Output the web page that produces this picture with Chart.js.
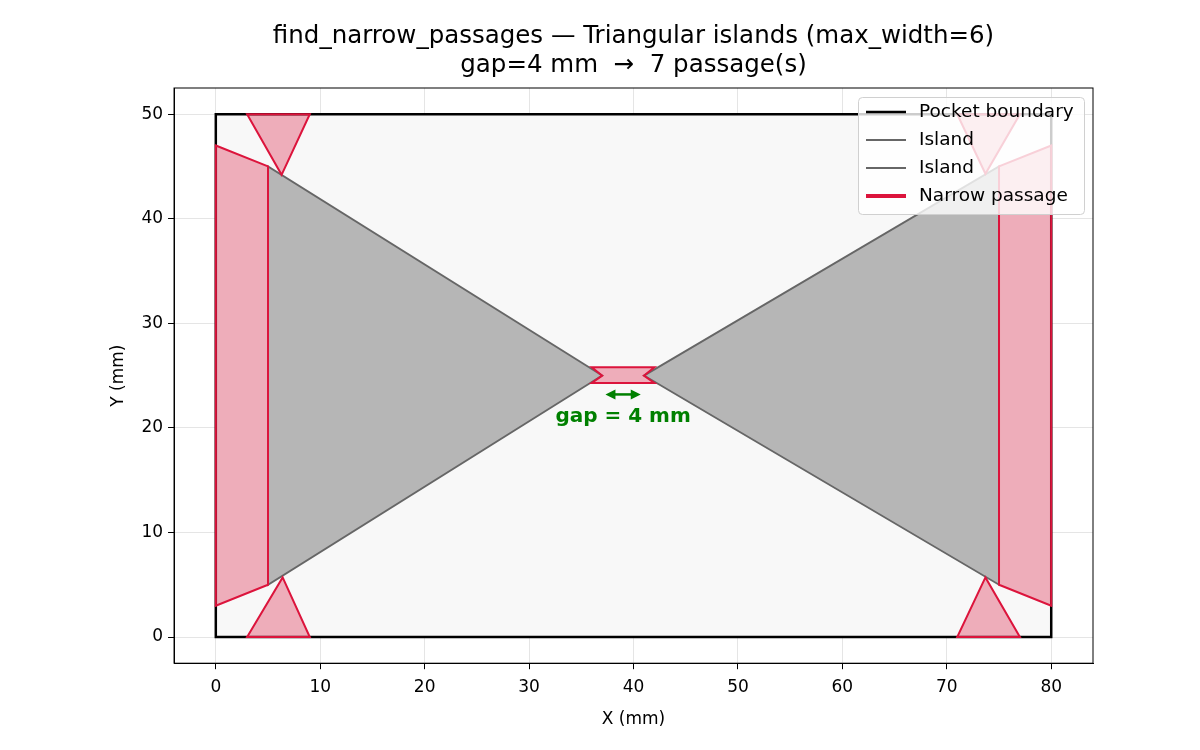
<!DOCTYPE html>
<html><head><meta charset="utf-8">
<script src="https://cdn.jsdelivr.net/npm/chart.js@4/dist/chart.umd.min.js"></script>
<style>html,body{margin:0;background:#fff}#w{width:1200px;height:750px}</style>
</head><body><div id="w"><canvas id="c" width="1200" height="750"></canvas></div>
<script>
const titleLines = ["find_narrow_passages — Triangular islands (max_width=6)", "gap=4 mm  →  7 passage(s)"];
const xTicks = [0,10,20,30,40,50,60,70,80];
const yTicks = [0,10,20,30,40,50];
const pocket = [[0,0],[80,0],[80,50],[0,50]];
const islandLeft = [[5,45],[5,5],[37,25]];
const islandRight = [[75,45],[75,5],[41,25]];
const passages = [
  [[0,47],[5,45],[5,5],[0,3]],
  [[3,50],[9,50],[6.3,44.2]],
  [[3,0],[9,0],[6.4,5.7]],
  [[75,45],[80,47],[80,3],[75,5]],
  [[71,50],[77,50],[73.7,44.3]],
  [[71,0],[77,0],[73.7,5.7]],
  [[36,25.8],[42,25.8],[41,25],[42,24.3],[36,24.3],[37,25]]
];
const gapArrow = [[37.5,23.2],[40.5,23.2]];
const gapLabel = {x:39, y:21.1, text:"gap = 4 mm"};
const legendItems = [
  {label:"Pocket boundary", color:"#000", w:2.5},
  {label:"Island", color:"#666", w:1.8},
  {label:"Island", color:"#666", w:1.8},
  {label:"Narrow passage", color:"#dc143c", w:4}
];
const shapes = [
  {poly:pocket, fill:"#f8f8f8", stroke:"#000", w:2.5},
  {poly:islandLeft, fill:"#b6b6b6", stroke:"#666", w:1.8},
  {poly:islandRight, fill:"#b6b6b6", stroke:"#666", w:1.8},
  ...passages.map(p=>({poly:p, fill:"rgba(220,20,60,0.33)", stroke:"#dc143c", w:2}))
];
const deco = {
  id:'deco',
  beforeDatasetsDraw(ch){
    const c=ch.ctx, xs=ch.scales.x, ys=ch.scales.y;
    c.save(); c.lineJoin="miter";
    shapes.forEach(s=>{
      c.beginPath();
      s.poly.forEach((p,i)=>{const X=xs.getPixelForValue(p[0]),Y=ys.getPixelForValue(p[1]); i?c.lineTo(X,Y):c.moveTo(X,Y);});
      c.closePath(); c.fillStyle=s.fill; c.fill(); c.strokeStyle=s.stroke; c.lineWidth=s.w; c.stroke();
    });
    c.restore();
  },
  afterDatasetsDraw(ch){
    const c=ch.ctx, xs=ch.scales.x, ys=ch.scales.y, a=ch.chartArea;
    c.save();
    c.strokeStyle="#000"; c.lineWidth=1; c.strokeRect(a.left,a.top,a.right-a.left,a.bottom-a.top);
    c.fillStyle="#000"; c.font="24.5px 'DejaVu Sans'"; c.textAlign="center"; c.textBaseline="middle";
    const cx=(a.left+a.right)/2;
    c.fillText(titleLines[0], cx, 37); c.fillText(titleLines[1], cx, 66);
    c.fillStyle="green"; c.strokeStyle="green"; c.lineWidth=2.5;
    const y=ys.getPixelForValue(gapArrow[0][1]);
    const x1=xs.getPixelForValue(gapArrow[0][0]), x2=xs.getPixelForValue(gapArrow[1][0]);
    c.beginPath(); c.moveTo(x1+4,y); c.lineTo(x2-4,y); c.stroke();
    c.beginPath(); c.moveTo(x1-2,y); c.lineTo(x1+8,y-5); c.lineTo(x1+8,y+5); c.fill();
    c.beginPath(); c.moveTo(x2+2,y); c.lineTo(x2-8,y-5); c.lineTo(x2-8,y+5); c.fill();
    c.font="bold 20px 'DejaVu Sans'";
    c.fillText(gapLabel.text, xs.getPixelForValue(gapLabel.x), ys.getPixelForValue(gapLabel.y));
    const lx=858, ly=97, lw=226, lh=117;
    c.fillStyle="rgba(255,255,255,0.8)"; c.strokeStyle="#d0d0d0"; c.lineWidth=1;
    c.beginPath(); c.roundRect(lx+0.5,ly+0.5,lw,lh,4); c.fill(); c.stroke();
    c.font="18.5px 'DejaVu Sans'"; c.textAlign="left";
    legendItems.forEach((it,i)=>{
      const yy=ly+15+i*28;
      c.strokeStyle=it.color; c.lineWidth=it.w; c.beginPath(); c.moveTo(lx+8,yy); c.lineTo(lx+48,yy); c.stroke();
      c.fillStyle="#000"; c.fillText(it.label, lx+61, yy);
    });
    c.restore();
  }
};
new Chart(document.getElementById('c'), {
  type:'scatter',
  data:{datasets:[{data:[], pointRadius:0}]},
  options:{
    responsive:false, animation:false, devicePixelRatio:1,
    layout:{padding:{left:104,right:107,top:88,bottom:16}},
    plugins:{legend:{display:false}, tooltip:{enabled:false}, title:{display:false}},
    scales:{
      x:{type:'linear', min:-4, max:84, afterBuildTicks:a=>{a.ticks=xTicks.map(v=>({value:v}))},
        grid:{color:"rgba(0,0,0,0.1)", tickLength:6, tickColor:"#000"}, border:{color:"#000", width:1},
        ticks:{color:"#000", font:{family:"DejaVu Sans", size:17}, maxRotation:0, padding:8},
        title:{display:true, text:"X (mm)", color:"#000", font:{family:"DejaVu Sans", size:17}, padding:{top:4}}},
      y:{type:'linear', min:-2.5, max:52.5, afterBuildTicks:a=>{a.ticks=yTicks.map(v=>({value:v}))},
        grid:{color:"rgba(0,0,0,0.1)", tickLength:6, tickColor:"#000"}, border:{color:"#000", width:1},
        ticks:{color:"#000", font:{family:"DejaVu Sans", size:17}, padding:5},
        title:{display:true, text:"Y (mm)", color:"#000", font:{family:"DejaVu Sans", size:17}, padding:{bottom:8}}}
    }
  },
  plugins:[deco]
});
</script></body></html>
